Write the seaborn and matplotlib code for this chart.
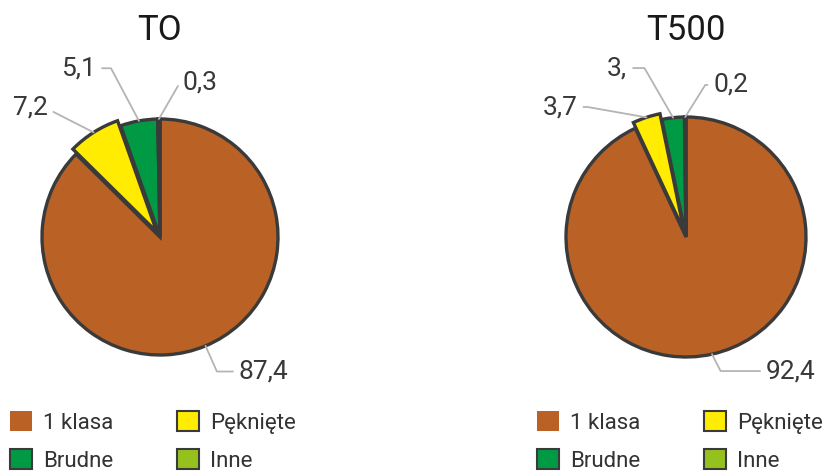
import numpy as np
import matplotlib.pyplot as plt
import seaborn as sns
from matplotlib.patches import Patch

# data
categories = ["1 klasa", "Pęknięte", "Brudne", "Inne"]
to_values = [87.4, 7.2, 5.1, 0.3]
t500_values = [92.4, 3.7, 3.0, 0.2]
to_labels = ["87,4", "7,2", "5,1", "0,3"]
t500_labels = ["92,4", "3,7", "3,", "0,2"]
titles = ["TO", "T500"]

colors = ["#BA6125", "#FFEC00", "#009A44", "#95C11F"]
edge = "#3A3A3A"
line_col = "#B4B4B4"

# layout (pixels of the 827x473 canvas): pie centre x, centre y, radius
W, H = 827, 473
pies = [(160, 237, 118), (686, 237, 120)]
explode = [0, 0.05, 0, 0]
# label text positions (in pie radii) and leader angle at the wedge
label_pos = [
    [(0.88, -1.14), (-1.10, 1.10), (-0.69, 1.43), (0.34, 1.31)],
    [(0.875, -1.117), (-1.05, 1.083), (-0.575, 1.408), (0.375, 1.267)],
]
leader_angle = [
    [-66, 153, 118, 60],
    [-63, 170, 120, 58],
]
legend_x = [10, 537]

sns.set_theme(style="white")
plt.rcParams['font.family'] = ['Roboto', 'DejaVu Sans']

fig = plt.figure(figsize=(W / 100, H / 100), dpi=100)

lim = 1.25
for i, (values, labels) in enumerate([(to_values, to_labels),
                                      (t500_values, t500_labels)]):
    cx, cy, r = pies[i]
    size = 2 * lim * r
    ax = fig.add_axes([(cx - size / 2) / W, (H - cy - size / 2) / H,
                       size / W, size / H])
    wedges, _ = ax.pie(values, colors=colors, startangle=90,
                       counterclock=False, explode=explode,
                       wedgeprops=dict(edgecolor=edge, linewidth=2.4))
    ax.set_xlim(-lim, lim)
    ax.set_ylim(-lim, lim)
    ax.set_aspect('equal')
    ax.axis('off')

    for j, w in enumerate(wedges):
        mid = np.deg2rad((w.theta1 + w.theta2) / 2)
        px = w.center[0] + w.r * np.cos(mid)
        py = w.center[1] + w.r * np.sin(mid)
        ax.annotate(labels[j], xy=(px, py), xytext=label_pos[i][j],
                    ha='center', va='center', fontsize=19, color='#383838',
                    annotation_clip=False,
                    arrowprops=dict(arrowstyle='-', color=line_col, lw=1.3,
                                    shrinkA=2, shrinkB=0,
                                    connectionstyle="angle,angleA=0,angleB=%d,rad=0"
                                    % leader_angle[i][j]))

    fig.text(cx / W, 1 - 30 / H, titles[i], ha='center', va='center',
             fontsize=25, color='#1A1A1A')

    handles = []
    for k in [0, 2, 1, 3]:
        ec = 'none' if k == 0 else edge
        handles.append(Patch(facecolor=colors[k], edgecolor=ec, linewidth=1.5,
                             label=categories[k]))
    fig.legend(handles=handles, ncol=2, loc='upper left',
               bbox_to_anchor=(legend_x[i] / W, 1 - 411 / H),
               frameon=False, fontsize=16, handlelength=1.0, handleheight=1.0,
               handletextpad=0.5, columnspacing=2.85, labelspacing=0.7,
               borderpad=0, borderaxespad=0, labelcolor='#333333')

plt.savefig("out.png", dpi=100)
